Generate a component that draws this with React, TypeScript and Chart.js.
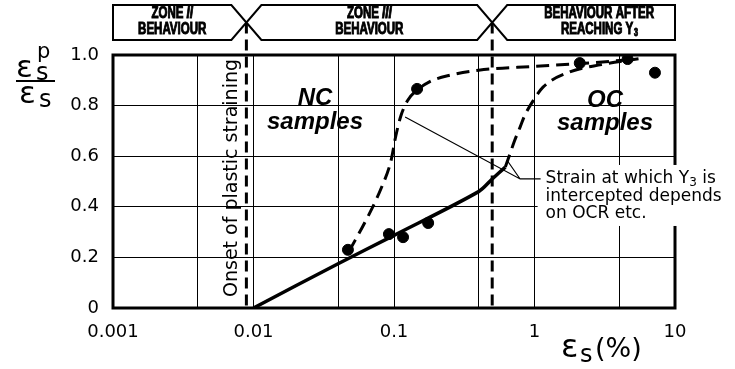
import { useEffect, useRef } from 'react';
import { Chart, registerables } from 'chart.js';

Chart.register(...registerables);

// ---- data ----
const xGridValues = [0.001, 0.004, 0.01, 0.04, 0.1, 0.4, 1, 4, 10];
const xLabelValues = [0.001, 0.01, 0.1, 1, 10];
const yTickValues = [0, 0.2, 0.4, 0.6, 0.8, 1.0];

const solidX = [0.01, 0.04, 0.1, 0.4, 0.5, 0.62];
const solidY = [0, 0.175, 0.287, 0.46, 0.51, 0.557];

const ncCurveX = [0.048, 0.065, 0.082, 0.095, 0.103, 0.112, 0.125, 0.145, 0.18, 0.25, 0.4, 1, 2, 4.5];
const ncCurveY = [0.225, 0.36, 0.48, 0.58, 0.68, 0.76, 0.82, 0.86, 0.895, 0.92, 0.94, 0.955, 0.965, 0.98];

const ocCurveX = [0.62, 0.67, 0.72, 0.79, 0.85, 0.98, 1.15, 1.78, 3, 5.5];
const ocCurveY = [0.557, 0.61, 0.66, 0.715, 0.76, 0.82, 0.873, 0.933, 0.962, 0.985];

const ncPointsX = [0.047, 0.092, 0.116, 0.175, 0.146];
const ncPointsY = [0.23, 0.292, 0.28, 0.336, 0.866];

const ocPointsX = [2.1, 4.6, 7.2];
const ocPointsY = [0.968, 0.984, 0.93];

const onsetStrain = 0.0089;
const y3Strain = 0.5;

const zoneTitles = [
  ['ZONE |II', 'BEHAVIOUR'],
  ['ZONE |III', 'BEHAVIOUR'],
  ['BEHAVIOUR AFTER', 'REACHING Y|3'],
];

const annotationLines = ['Strain at which Y|3| is', 'intercepted depends', 'on OCR etc.'];
// leader line anchor points (data coords)
const leaderNC = { x: 0.12, y: 0.755 };
const leaderOC = { x: 0.645, y: 0.58 };
const leaderJoint = { x: 0.79, y: 0.51 };
const leaderTextStart = { x: 1.2, y: 0.51 };

const pts = (xs: number[], ys: number[]) => xs.map((x, i) => ({ x, y: ys[i] }));

const SANS = 'DejaVu Sans';

const drawPlugin = {
  id: 'figureDecor',
  afterDraw(chart: any) {
    const ctx: CanvasRenderingContext2D = chart.ctx;
    const xs = chart.scales.x;
    const ys = chart.scales.y;
    const { left, right, top, bottom } = chart.chartArea;
    ctx.save();

    // thick plot frame
    ctx.strokeStyle = '#000';
    ctx.lineWidth = 3;
    ctx.strokeRect(left, top, right - left, bottom - top);

    // vertical dashed boundaries
    const hTop = 5, hBot = 40, hMid = 22.5, hw = 15;
    const xOn = xs.getPixelForValue(onsetStrain);
    const xY3 = xs.getPixelForValue(y3Strain);
    ctx.setLineDash([11, 6]);
    ctx.lineWidth = 3;
    [xOn, xY3].forEach((xx) => {
      ctx.beginPath();
      ctx.moveTo(xx, hMid);
      ctx.lineTo(xx, bottom);
      ctx.stroke();
    });
    ctx.setLineDash([]);

    // header boxes
    ctx.fillStyle = '#fff';
    ctx.lineWidth = 2;
    const boxes = [
      [[left, hTop], [xOn - hw, hTop], [xOn, hMid], [xOn - hw, hBot], [left, hBot]],
      [[xOn + hw, hTop], [xY3 - hw, hTop], [xY3, hMid], [xY3 - hw, hBot], [xOn + hw, hBot], [xOn, hMid]],
      [[xY3 + hw, hTop], [right, hTop], [right, hBot], [xY3 + hw, hBot], [xY3, hMid]],
    ];
    boxes.forEach((b) => {
      ctx.beginPath();
      b.forEach((p, i) => (i ? ctx.lineTo(p[0], p[1]) : ctx.moveTo(p[0], p[1])));
      ctx.closePath();
      ctx.fill();
      ctx.stroke();
    });
    const centers = [(left + xOn - hw) / 2, (xOn + xY3) / 2, (xY3 + hw + right) / 2 + 8];
    ctx.fillStyle = '#000';
    ctx.strokeStyle = '#000';
    ctx.textBaseline = 'middle';
    ctx.textAlign = 'left';
    const SX = 0.72;
    const headFont = (it: boolean, size = 16) => `${it ? 'italic ' : ''}bold ${size}px "Liberation Sans", sans-serif`;
    zoneTitles.forEach((lines, i) => {
      lines.forEach((ln, j) => {
        const parts = ln.split('|');
        const y = j === 0 ? 14 : 30;
        ctx.font = headFont(false);
        const w0 = ctx.measureText(parts[0]).width;
        let w1 = 0;
        const subFont = i === 2 ? headFont(false, 10) : headFont(true);
        if (parts[1]) {
          ctx.font = subFont;
          w1 = ctx.measureText(parts[1]).width;
        }
        const total = (w0 + w1) * SX;
        ctx.save();
        ctx.translate(centers[i] - total / 2, y);
        ctx.scale(SX, 1);
        ctx.lineWidth = 1;
        ctx.font = headFont(false);
        ctx.fillText(parts[0], 0, 0);
        ctx.strokeText(parts[0], 0, 0);
        if (parts[1]) {
          ctx.font = subFont;
          const dy = i === 2 ? 3 : 0;
          ctx.fillText(parts[1], w0 + (i === 2 ? 1 : 0), dy);
          ctx.strokeText(parts[1], w0 + (i === 2 ? 1 : 0), dy);
        }
        ctx.restore();
      });
    });

    // Onset text
    ctx.save();
    ctx.translate(xOn - 9, bottom - 11);
    ctx.rotate(-Math.PI / 2);
    ctx.font = `19px "${SANS}"`;
    ctx.textAlign = 'left';
    ctx.textBaseline = 'alphabetic';
    ctx.fillText('Onset of plastic straining', 0, 0);
    ctx.restore();

    // NC / OC labels
    ctx.font = 'italic bold 24px "Liberation Sans", sans-serif';
    ctx.textAlign = 'center';
    ctx.textBaseline = 'middle';
    ctx.fillText('NC', 315, 98);
    ctx.fillText('samples', 315, 122);
    ctx.fillText('OC', 605, 100);
    ctx.fillText('samples', 605, 123);

    // annotation with white box
    const tx = xs.getPixelForValue(leaderTextStart.x);
    const ty = ys.getPixelForValue(leaderTextStart.y);
    ctx.fillStyle = '#fff';
    ctx.fillRect(tx - 8, ty - 14, 200, 61);
    ctx.fillStyle = '#000';
    ctx.textAlign = 'left';
    ctx.textBaseline = 'middle';
    annotationLines.forEach((ln, j) => {
      const parts = ln.split('|');
      let x = tx;
      const y = ty + j * 17.5;
      parts.forEach((p, k) => {
        ctx.font = k === 1 ? `12px "${SANS}"` : `17px "${SANS}"`;
        ctx.fillText(p, x, k === 1 ? y + 4 : y);
        x += ctx.measureText(p).width;
      });
    });

    // leader lines
    ctx.lineWidth = 1.2;
    const P = (p: any) => [xs.getPixelForValue(p.x), ys.getPixelForValue(p.y)];
    const [jx, jy] = P(leaderJoint);
    ctx.beginPath();
    ctx.moveTo(tx - 5, ty);
    ctx.lineTo(jx, jy);
    const [nx, ny] = P(leaderNC);
    ctx.lineTo(nx, ny);
    ctx.moveTo(jx, jy);
    const [ox, oy] = P(leaderOC);
    ctx.lineTo(ox, oy);
    ctx.stroke();

    // y-axis title: eps_s^p / eps_s
    ctx.textAlign = 'left';
    ctx.textBaseline = 'alphabetic';
    ctx.font = `31px "${SANS}"`;
    ctx.fillText('ε', 16, 77);
    ctx.fillText('ε', 19, 103);
    ctx.font = `24px "${SANS}"`;
    ctx.fillText('s', 36, 80);
    ctx.fillText('s', 39, 107);
    ctx.font = `21px "${SANS}"`;
    ctx.fillText('p', 37, 58);
    ctx.lineWidth = 2;
    ctx.beginPath();
    ctx.moveTo(16, 81);
    ctx.lineTo(55, 81);
    ctx.stroke();

    // x-axis title
    ctx.font = `32px "${SANS}"`;
    ctx.fillText('ε', 561, 357);
    ctx.font = `24px "${SANS}"`;
    ctx.fillText('s', 580, 362);
    ctx.font = `27px "${SANS}"`;
    ctx.fillText('(%)', 595, 357);

    ctx.restore();
  },
};

export default function App() {
  const ref = useRef<HTMLCanvasElement>(null);
  useEffect(() => {
    if (!ref.current) return;
    Chart.defaults.font.family = SANS;
    const chart = new Chart(ref.current, {
      type: 'scatter',
      data: {
        datasets: [
          {
            data: pts(solidX, solidY),
            showLine: true,
            borderColor: '#000',
            borderWidth: 3.5,
            pointRadius: 0,
            tension: 0.3,
          },
          {
            data: pts(ncCurveX, ncCurveY),
            showLine: true,
            borderColor: '#000',
            borderWidth: 3,
            borderDash: [13, 7],
            pointRadius: 0,
            cubicInterpolationMode: 'monotone',
          },
          {
            data: pts(ocCurveX, ocCurveY),
            showLine: true,
            borderColor: '#000',
            borderWidth: 3,
            borderDash: [13, 7],
            pointRadius: 0,
            cubicInterpolationMode: 'monotone',
          },
          {
            data: pts(ncPointsX, ncPointsY),
            showLine: false,
            pointRadius: 5.5,
            backgroundColor: '#000',
            borderColor: '#000',
          },
          {
            data: pts(ocPointsX, ocPointsY),
            showLine: false,
            pointRadius: 5.5,
            backgroundColor: '#000',
            borderColor: '#000',
          },
        ],
      } as any,
      options: {
        animation: false,
        responsive: false,
        events: [],
        layout: { padding: { top: 55, right: 60, left: 0, bottom: 0 } },
        plugins: { legend: { display: false }, tooltip: { enabled: false } },
        scales: {
          x: {
            type: 'logarithmic',
            min: 0.001,
            max: 10,
            afterBuildTicks: (axis: any) => {
              axis.ticks = xGridValues.map((v) => ({ value: v }));
            },
            afterFit: (scale: any) => {
              scale.height = 61;
            },
            grid: { color: '#000', lineWidth: 1, drawTicks: false },
            border: { display: false },
            ticks: {
              autoSkip: false,
              maxRotation: 0,
              padding: 14,
              color: '#000',
              font: { size: 18, family: SANS },
              callback: (v: any) => (xLabelValues.includes(Number(v)) ? String(v) : ''),
            },
          },
          y: {
            min: 0,
            max: 1,
            afterBuildTicks: (axis: any) => {
              axis.ticks = yTickValues.map((v) => ({ value: v }));
            },
            afterFit: (scale: any) => {
              scale.width = 113;
            },
            grid: { color: '#000', lineWidth: 1, drawTicks: false },
            border: { display: false },
            ticks: {
              padding: 14,
              color: '#000',
              font: { size: 18, family: SANS },
              callback: (v: any) => (Number(v) === 0 ? '0' : Number(v).toFixed(1)),
            },
          },
        },
      } as any,
      plugins: [drawPlugin],
    });
    return () => chart.destroy();
  }, []);
  return (
    <div style={{ position: 'absolute', left: 0, top: 0, width: 735, height: 369, background: '#fff' }}>
      <canvas ref={ref} width={735} height={369} />
    </div>
  );
}
